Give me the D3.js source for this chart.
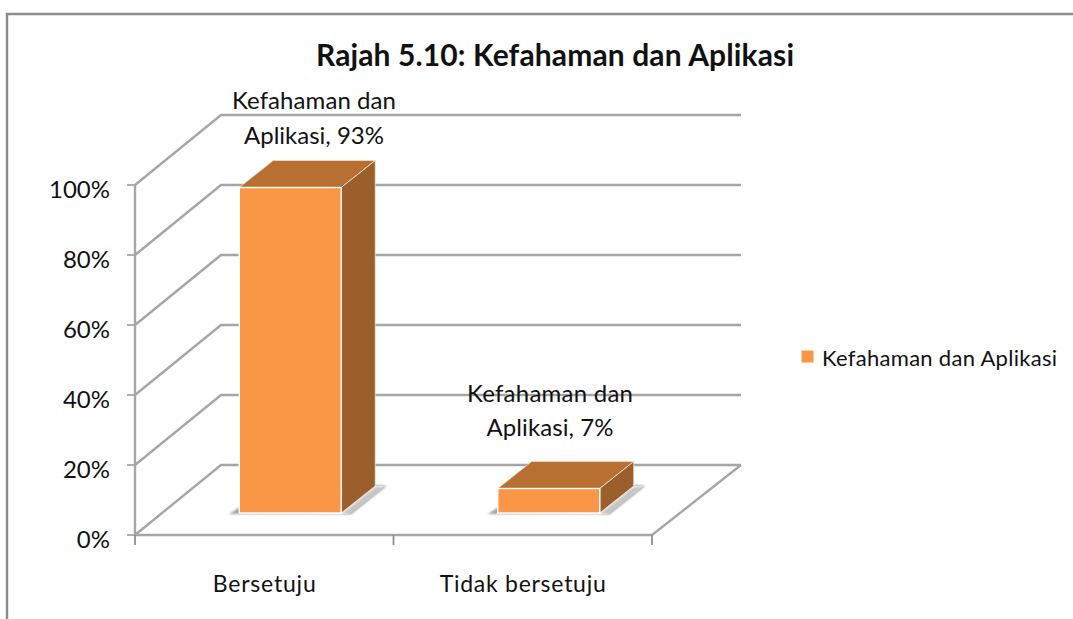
<!DOCTYPE html>
<html><head><meta charset="utf-8">
<script src="https://cdnjs.cloudflare.com/ajax/libs/d3/7.8.5/d3.min.js"></script>
<style>html,body{margin:0;padding:0;background:#fff}svg{display:block}text{font-family:Lato,"Open Sans",sans-serif;fill:#111}</style>
</head><body><svg id="c" width="1073" height="619"></svg>
<script>
const title = "Rajah 5.10: Kefahaman dan Aplikasi";
const seriesName = "Kefahaman dan Aplikasi";
const categories = ["Bersetuju", "Tidak bersetuju"];
const values = [93, 7];
const yTicks = [0, 20, 40, 60, 80, 100];

const svg = d3.select("#c");
const defs = svg.append("defs");
defs.append("filter").attr("id","soft").attr("x","-5%").attr("y","-5%").attr("width","110%").attr("height","110%")
  .append("feGaussianBlur").attr("stdDeviation",0.6);
defs.append("filter").attr("id","shadow").attr("x","-20%").attr("y","-20%").attr("width","140%").attr("height","140%")
  .append("feGaussianBlur").attr("stdDeviation",1.2);

const x = d3.scaleBand().domain(categories).range([135, 652]);
const y = d3.scaleLinear().domain([0, 100]).range([535, 185]);
const depth = {dx: 86, dy: -70};
const barFront = {dx: 26, dy: -22};
const barDepth = {dx: 34, dy: -27};
const barW = 102;
const pts = a => a.map(p => p.join(",")).join(" ");

svg.append("path").attr("d","M7,619V14H1073").attr("fill","none").attr("stroke","#8c8c8c").attr("stroke-width",2.4);

const g = svg.append("g").attr("filter","url(#soft)");
const grid = g.append("g").attr("fill","none").attr("stroke","#a6a6a6").attr("stroke-width",2.4);

yTicks.forEach(t => {
  const yy = y(t), bx0 = x.range()[0] + depth.dx, bx1 = x.range()[1] + depth.dx + 3;
  grid.append("path").attr("d", d3.line()([[x.range()[0], yy],[bx0, yy + depth.dy],[bx1, yy + depth.dy]]));
});
grid.append("path").attr("d", d3.line()([[x.range()[0], y(0)],[x.range()[1], y(0)],[x.range()[1] + depth.dx + 3, y(0) + depth.dy]]));
grid.append("path").attr("d", d3.line()([[x.range()[0], y(100)],[x.range()[0], y(0)]]));
yTicks.forEach(t => grid.append("path").attr("stroke-width",1.8).attr("d", d3.line()([[x.range()[0] - 8, y(t)],[x.range()[0], y(t)]])));
[...categories.map(c => x(c)), x.range()[1]].forEach(v =>
  grid.append("path").attr("stroke-width",1.8).attr("stroke","#8f8f8f").attr("d", d3.line()([[v, y(0)],[v, y(0) + 10]])));

categories.forEach((c, i) => {
  const v = values[i];
  const x0 = x(c) + x.bandwidth()/2 + barFront.dx - barW/2, x1 = x0 + barW;
  const yb = y(0) + barFront.dy, yt = y(v) + barFront.dy;
  const dx = barDepth.dx, dy = barDepth.dy;
  const bar = g.append("g");
  bar.append("polygon").attr("filter","url(#shadow)").attr("fill","#a0a0a0")
     .attr("points", pts([[x0-10,yb+1],[x0+4,yb-8],[x1+dx-2,yb+dy-1],[x1+dx+11,yb+dy],[x1+10,yb+1]]));
  bar.append("polygon").attr("fill","#fff").attr("points", pts([[x0,yb],[x0+8,yb-6],[x1+dx-2,yb+dy],[x1+dx+9,yb+dy],[x1+7,yb+1]]));
  bar.append("polygon").attr("fill","#c4c4c4").attr("filter","url(#shadow)").attr("points", pts([[x1,yb+1],[x1+dx,yb+dy+1],[x1+dx+10,yb+dy],[x1+9,yb+1]]));
  bar.append("polygon").attr("fill","#b87033").attr("stroke","#f4d9c1").attr("stroke-width",0.8)
     .attr("points", pts([[x0,yt],[x1,yt],[x1+dx,yt+dy],[x0+dx,yt+dy]]));
  bar.append("polygon").attr("fill","#9a5f2c").attr("stroke","#f4e6da").attr("stroke-width",0.8)
     .attr("points", pts([[x1,yt],[x1+dx,yt+dy],[x1+dx,yb+dy],[x1,yb]]));
  bar.append("rect").attr("x",x0).attr("y",yt).attr("width",barW).attr("height",yb-yt)
     .attr("fill","#f99746").attr("stroke","#fff").attr("stroke-width",1.4);
});

const txt = (s, px, py, size, anchor, len, weight) => {
  const t = svg.append("text").attr("x",px).attr("y",py).attr("font-size",size)
    .attr("text-anchor",anchor).text(s);
  if (len) t.attr("textLength",len).attr("lengthAdjust","spacing");
  if (weight) t.attr("font-weight",weight);
  return t;
};
txt(title, 555, 66, 30, "middle", 478, 700);
yTicks.forEach(t => txt(t + "%", 110, y(t) + 13, 24, "end"));
categories.forEach(c => txt(c, x(c) + x.bandwidth()/2, 592, 23, "middle", c === categories[0] ? 103 : 166));

const labelCx = [314, 550], labelY = [[109,144],[402,436]], l1 = [164,166], l2 = [140,127];
categories.forEach((c, i) => {
  const words = seriesName.split(" ");
  txt(words.slice(0,2).join(" "), labelCx[i], labelY[i][0], 24, "middle", l1[i]);
  txt(words[2] + ", " + values[i] + "%", labelCx[i], labelY[i][1], 24, "middle", l2[i]);
});

svg.append("rect").attr("x",801.5).attr("y",350.5).attr("width",12).attr("height",12).attr("fill","#f99746").attr("filter","url(#soft)");
txt(seriesName, 822, 366, 22, "start", 235);
</script></body></html>
